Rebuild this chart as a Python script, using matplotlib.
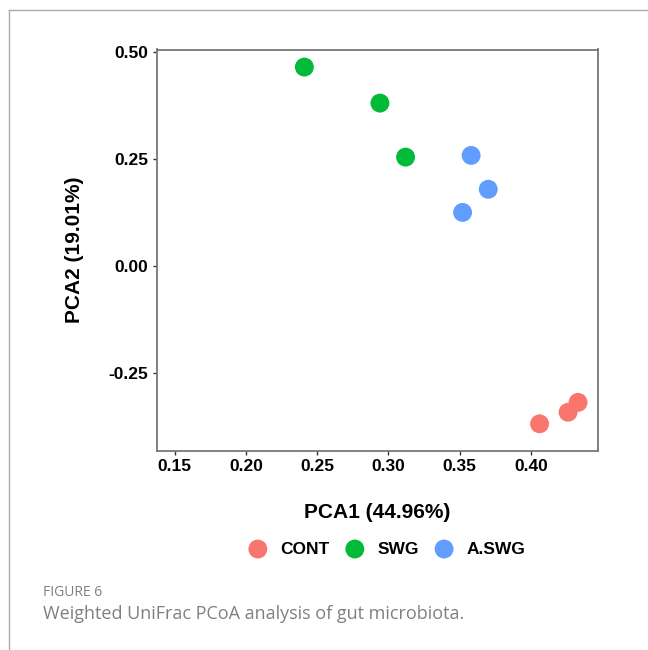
import matplotlib
matplotlib.use("Agg")
import matplotlib.pyplot as plt
from matplotlib.lines import Line2D

groups = ["CONT", "SWG", "A.SWG"]
colors = ["#F8766D", "#00BA38", "#619CFF"]
pca1 = {
    "CONT": [0.406, 0.426, 0.433],
    "SWG": [0.241, 0.294, 0.312],
    "A.SWG": [0.358, 0.370, 0.352],
}
pca2 = {
    "CONT": [-0.368, -0.341, -0.318],
    "SWG": [0.464, 0.380, 0.254],
    "A.SWG": [0.258, 0.179, 0.125],
}
xticks = [0.15, 0.20, 0.25, 0.30, 0.35, 0.40]
yticks = [-0.25, 0.00, 0.25, 0.50]

plt.rcParams['font.family'] = ['Liberation Sans', 'DejaVu Sans']

fig = plt.figure(figsize=(6.48, 6.5), dpi=100)
ax = fig.add_axes([156.7/648, 1 - 450.7/650, (598.3-156.7)/648, (450.7-49.5)/650])

for g, c in zip(groups, colors):
    ax.scatter(pca1[g], pca2[g], s=185, color=c, edgecolors="none", label=g, zorder=3)

ax.set_xlim(0.1374, 0.4472)
ax.set_ylim(-0.4307, 0.505)
ax.set_xticks(xticks)
ax.set_xticklabels([f"{v:.2f}" for v in xticks])
ax.set_yticks(yticks)
ax.set_yticklabels([f"{v:.2f}" for v in yticks])
for lab in ax.get_xticklabels() + ax.get_yticklabels():
    lab.set_fontweight("bold")
    lab.set_fontsize(12.5)
    lab.set_color("black")
ax.tick_params(length=3, width=1, color="#333333", pad=3)
for sp in ax.spines.values():
    sp.set_color("#777777")
    sp.set_linewidth(1.3)

ax.set_xlabel("PCA1 (44.96%)", fontsize=15, fontweight="bold", labelpad=21)
ax.set_ylabel("PCA2 (19.01%)", fontsize=15, fontweight="bold", labelpad=18)

fig.legend(loc="center", bbox_to_anchor=(383/648, 1 - 549/650), ncol=3, frameon=False,
           prop={"weight": "bold", "size": 12.5}, handletextpad=0.3, columnspacing=0.45,
           markerscale=1.0)

# page frame lines
fig.add_artist(Line2D([9/648, 1], [1 - 9.5/650, 1 - 9.5/650], color="#aaaaaa", lw=1))
fig.add_artist(Line2D([9/648, 9/648], [0, 1 - 9.5/650], color="#aaaaaa", lw=1))

fig.text(43/648, 1 - 592/650, "FIGURE 6", fontsize=10, color="#808080",
         family=["Open Sans", "DejaVu Sans"], va="center")
fig.text(43/648, 1 - 614/650, "Weighted UniFrac PCoA analysis of gut microbiota.", fontsize=13,
         color="#808080", family=["Open Sans", "DejaVu Sans"], va="center")

fig.savefig("out.png", dpi=100, facecolor="white")
